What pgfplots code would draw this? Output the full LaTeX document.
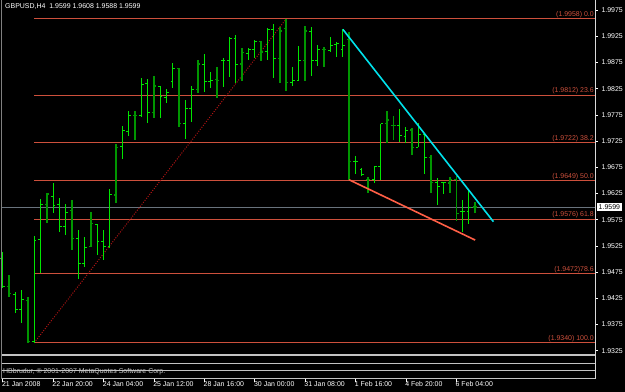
\documentclass[border=0pt]{standalone}
\usepackage{pgfplots}
\pgfplotsset{compat=1.18}
\usepackage{pgfplotstable}
\usepackage{fontspec}
\setmainfont{Liberation Sans}
\definecolor{barA}{RGB}{0,230,0}
\definecolor{barB}{RGB}{0,150,0}
\definecolor{fib}{RGB}{205,80,60}
\definecolor{cyanl}{RGB}{0,225,235}
\definecolor{orl}{RGB}{255,95,70}
\definecolor{dotred}{RGB}{175,20,20}
\definecolor{pline}{RGB}{105,115,125}
\definecolor{framec}{RGB}{195,195,195}
\newcommand{\mtfont}{\fontsize{7}{8.4}\selectfont}

% lime bars: index open high low close
\pgfplotstableread{
i o h l c
0 1.9500 1.9514 1.9444 1.9447
2 1.9433 1.9436 1.9397 1.9403
3 1.9403 1.9441 1.9377 1.9422
5 1.9342 1.9544 1.9340 1.9536
6 1.9537 1.9614 1.9474 1.9604
8 1.9620 1.9644 1.9587 1.9602
9 1.9604 1.9616 1.9552 1.9562
10 1.9562 1.9605 1.9546 1.9589
12 1.9539 1.9555 1.9461 1.9492
13 1.9492 1.9541 1.9485 1.9522
15 1.9565 1.9566 1.9507 1.9534
16 1.9533 1.9555 1.9498 1.9524
17 1.9523 1.9633 1.9520 1.9623
19 1.9715 1.9754 1.9690 1.9745
20 1.9743 1.9782 1.9735 1.9773
22 1.9773 1.9845 1.9771 1.9832
23 1.9834 1.9843 1.9760 1.9779
25 1.9830 1.9830 1.9768 1.9810
26 1.9808 1.9824 1.9797 1.9817
27 1.9838 1.9874 1.9827 1.9864
29 1.9758 1.9803 1.9728 1.9787
30 1.9787 1.9830 1.9762 1.9824
32 1.9872 1.9891 1.9819 1.9838
33 1.9838 1.9856 1.9826 1.9841
35 1.9878 1.9884 1.9829 1.9878
36 1.9878 1.9924 1.9848 1.9921
37 1.9921 1.9927 1.9836 1.9872
39 1.9892 1.9903 1.9880 1.9900
40 1.9900 1.9918 1.9884 1.9915
42 1.9895 1.9941 1.9880 1.9937
43 1.9937 1.9948 1.9845 1.9882
46 1.9836 1.9867 1.9830 1.9841
47 1.9841 1.9906 1.9841 1.9878
49 1.9935 1.9942 1.9849 1.9878
50 1.9878 1.9908 1.9868 1.9900
52 1.9897 1.9923 1.9895 1.9908
53 1.9910 1.9914 1.9885 1.9911
54 1.9900 1.9938 1.9885 1.9908
56 1.9686 1.9696 1.9662 1.9686
57 1.9671 1.9673 1.9658 1.9662
59 1.9652 1.9677 1.9644 1.9676
60 1.9677 1.9758 1.9651 1.9758
63 1.9754 1.9786 1.9724 1.9735
64 1.9733 1.9751 1.9721 1.9746
66 1.9713 1.9759 1.9713 1.9737
67 1.9737 1.9740 1.9663 1.9693
69 1.9646 1.9654 1.9603 1.9638
70 1.9645 1.9647 1.9624 1.9645
73 1.9590 1.9612 1.9552 1.9590
74 1.9590 1.9632 1.9567 1.9599
}\barsA
% darker bars
\pgfplotstableread{
i o h l c
1 1.9447 1.9469 1.9428 1.9434
4 1.9420 1.9427 1.9341 1.9342
7 1.9604 1.9626 1.9568 1.9624
11 1.9592 1.9612 1.9518 1.9539
14 1.9524 1.9590 1.9523 1.9568
18 1.9622 1.9719 1.9606 1.9713
21 1.9773 1.9782 1.9727 1.9773
24 1.9779 1.9849 1.9768 1.9830
28 1.9863 1.9864 1.9751 1.9758
31 1.9824 1.9880 1.9817 1.9872
34 1.9843 1.9866 1.9808 1.9841
38 1.9872 1.9902 1.9840 1.9894
41 1.9915 1.9916 1.9878 1.9895
44 1.9883 1.9943 1.9836 1.9935
45 1.9940 1.9958 1.9820 1.9836
48 1.9878 1.9944 1.9840 1.9935
51 1.9900 1.9905 1.9866 1.9900
55 1.9918 1.9933 1.9651 1.9686
58 1.9652 1.9656 1.9625 1.9652
61 1.9758 1.9783 1.9722 1.9765
62 1.9754 1.9773 1.9726 1.9754
65 1.9746 1.9749 1.9698 1.9713
68 1.9693 1.9698 1.9626 1.9646
71 1.9645 1.9657 1.9626 1.9652
72 1.9652 1.9658 1.9573 1.9587
75 1.9599 1.9608 1.9588 1.9599
}\barsB

\pgfplotsset{
  hl/.style={draw=none, mark=none, forget plot,
    error bars/.cd, y dir=both, y explicit, error mark=none,
    error bar style={#1}},
  tk/.style={draw=none, mark=none, forget plot,
    error bars/.cd, x dir=both, x explicit, error mark=none,
    error bar style={#1}},
}

\begin{document}
\begin{tikzpicture}
\path[use as bounding box] (0,0) rectangle (625bp,392bp);
\fill[black] (0,0) rectangle (625bp,392bp);

\begin{axis}[
  scale only axis, width=593bp, height=354bp,
  at={(2bp,38bp)}, anchor=south west,
  xmin=-0.111, xmax=94.02, ymin=1.93186, ymax=1.99941,
  axis line style={draw=none}, xtick=\empty,
  ytick={1.9325,1.9375,1.9425,1.9475,1.9525,1.9575,1.9625,1.9675,1.9725,1.9775,1.9825,1.9875,1.9925,1.9975},
  yticklabel pos=right, ytick pos=right, tick align=outside,
  major tick length=3bp, tick style={white, line width=0.6bp},
  scaled y ticks=false,
  yticklabel style={font=\mtfont, text=white},
  /pgf/number format/fixed, /pgf/number format/fixed zerofill,
  /pgf/number format/precision=4, /pgf/number format/assume math mode=true,
  clip=false,
]
% Fibonacci levels
\addplot[fib, line width=0.9bp] coordinates {(5,1.9958) (94.02,1.9958)};
\addplot[fib, line width=0.9bp] coordinates {(5,1.9812) (94.02,1.9812)};
\addplot[fib, line width=0.9bp] coordinates {(5,1.9722) (94.02,1.9722)};
\addplot[fib, line width=0.9bp] coordinates {(5,1.9649) (94.02,1.9649)};
\addplot[fib, line width=0.9bp] coordinates {(5,1.9576) (94.02,1.9576)};
\addplot[fib, line width=0.9bp] coordinates {(5,1.9472) (94.02,1.9472)};
\addplot[fib, line width=0.9bp] coordinates {(5,1.9340) (94.02,1.9340)};
% current price line
\addplot[pline, line width=0.9bp] coordinates {(-0.111,1.9599) (94.02,1.9599)};
% fib trend line
\addplot[dotred, line width=1bp, dash pattern=on 1bp off 1.5bp] coordinates {(5,1.9340) (45,1.9958)};
% bars: high-low ranges
\addplot[hl={barA, line width=0.9bp}]
  table[x=i, y=c, y error plus expr=\thisrow{h}-\thisrow{c}, y error minus expr=\thisrow{c}-\thisrow{l}] {\barsA};
\addplot[hl={barB, line width=1.5bp}]
  table[x=i, y=c, y error plus expr=\thisrow{h}-\thisrow{c}, y error minus expr=\thisrow{c}-\thisrow{l}] {\barsB};
% open (left) and close (right) ticks
\addplot[tk={barA, line width=0.9bp}] table[x expr=\thisrow{i}-0.18, y=o, x error expr=0.18] {\barsA};
\addplot[tk={barA, line width=0.9bp}] table[x expr=\thisrow{i}+0.18, y=c, x error expr=0.18] {\barsA};
\addplot[tk={barB, line width=1.2bp}] table[x expr=\thisrow{i}-0.18, y=o, x error expr=0.18] {\barsB};
\addplot[tk={barB, line width=1.2bp}] table[x expr=\thisrow{i}+0.18, y=c, x error expr=0.18] {\barsB};
% trend lines
\addplot[cyanl, line width=1.6bp] coordinates {(54,1.9938) (77.9,1.9571)};
\addplot[orl, line width=1.6bp] coordinates {(55,1.9651) (75,1.9536)};
% level labels
\foreach \lv/\tx in {1.9958/{(1.9958) 0.0},1.9812/{(1.9812) 23.6},1.9722/{(1.9722) 38.2},1.9649/{(1.9649) 50.0},1.9576/{(1.9576) 61.8},1.9472/{(1.9472)78.6},1.9340/{(1.9340) 100.0}}{
  \edef\temp{\noexpand\node[anchor=base east, inner sep=0pt, text=fib, font=\noexpand\mtfont, yshift=2.5bp, xshift=-1bp] at (axis cs:94.02,\lv) {\unexpanded\expandafter{\tx}};}
  \temp
}
\node[anchor=west, fill=white, text=black, font=\mtfont, inner xsep=2bp, inner ysep=1.5bp, xshift=1.5bp] at (axis cs:94.02,1.9599) {1.9599};
\end{axis}

\begin{axis}[
  scale only axis, width=593bp, height=20bp,
  at={(2bp,13.3bp)}, anchor=south west,
  xmin=-0.111, xmax=94.02, ymin=0, ymax=1,
  axis line style={draw=none}, ytick=\empty,
  xtick={0,8,16,24,32,40,48,56,64,72},
  xticklabels={21 Jan 2008,22 Jan 20:00,24 Jan 04:00,25 Jan 12:00,28 Jan 16:00,30 Jan 00:00,31 Jan 08:00,1 Feb 16:00,4 Feb 20:00,6 Feb 04:00},
  xtick pos=bottom, tick align=outside, major tick length=3bp,
  tick style={white, line width=0.6bp},
  xticklabel style={font=\mtfont, text=white, anchor=north west, inner sep=0pt, xshift=-0.8bp},
]
\addplot[draw=none] coordinates {(0,0.5)};
\end{axis}

% window frames
\draw[framec, line width=1.2bp] (2bp,37bp) -- (596bp,37bp);
\draw[framec, line width=1.2bp] (2bp,28.7bp) -- (596bp,28.7bp);
\draw[framec, line width=1.2bp] (2bp,21.3bp) -- (596bp,21.3bp);
\draw[framec, line width=1.2bp] (2bp,13.3bp) -- (596bp,13.3bp);
\draw[gray, line width=1bp] (1.5bp,392bp) -- (1.5bp,12.8bp);
\draw[white!85!black, line width=1bp] (595.5bp,392bp) -- (595.5bp,12.8bp);
\node[anchor=west, inner sep=0pt, text=white!78!black, font=\mtfont] at (3bp,20bp) {HBbrudur, \textcopyright{} 2001-2007 MetaQuotes Software Corp.};
\node[anchor=west, inner sep=0pt, text=white, font=\mtfont] at (5bp,385bp) {GBPUSD,H4\ \ 1.9599 1.9608 1.9588 1.9599};
\end{tikzpicture}
\end{document}
